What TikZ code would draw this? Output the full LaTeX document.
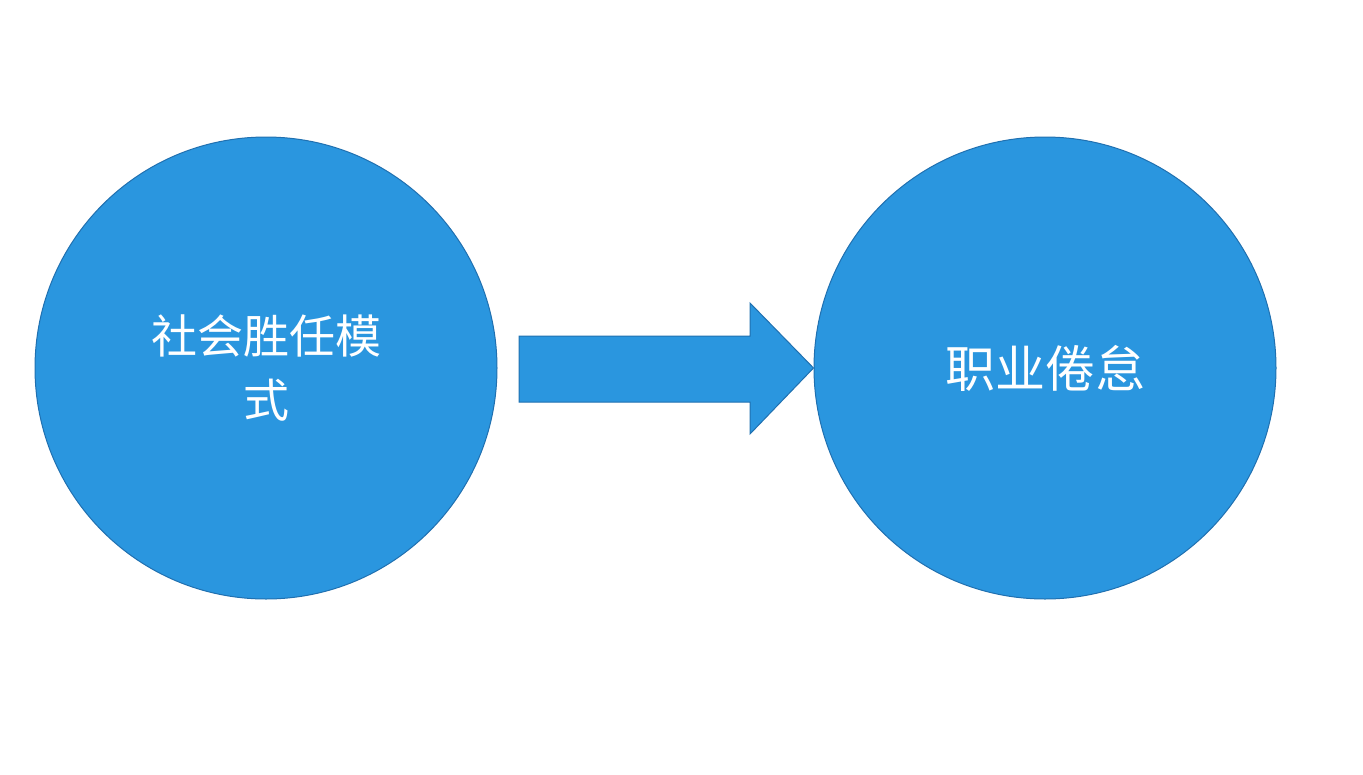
\documentclass[tikz,border=0pt]{standalone}
\usepackage{fontspec}
\newfontfamily\cjk{Noto Sans CJK SC}
\definecolor{fillb}{HTML}{2A96DF}
\definecolor{edgeb}{HTML}{2070B0}
\begin{document}
\begin{tikzpicture}[x=1pt,y=-1pt,
  bubble/.style={circle,draw=edgeb,fill=fillb,line width=1pt,minimum size=462pt,inner sep=0pt,text=white,align=center}]
\useasboundingbox (0,0) rectangle (1363,774);
\node[bubble,font=\cjk\fontsize{46}{64}\selectfont] (a) at (266,368) {社会胜任模\\式};
\node[bubble,font=\cjk\fontsize{50}{60}\selectfont] (b) at (1045,368) {职业倦怠};
\draw[edgeb,fill=fillb,line width=1pt] (519,336) -- (750,336) -- (750,303) -- (b.west) -- (750,434) -- (750,402) -- (519,402) -- cycle;
\end{tikzpicture}
\end{document}
